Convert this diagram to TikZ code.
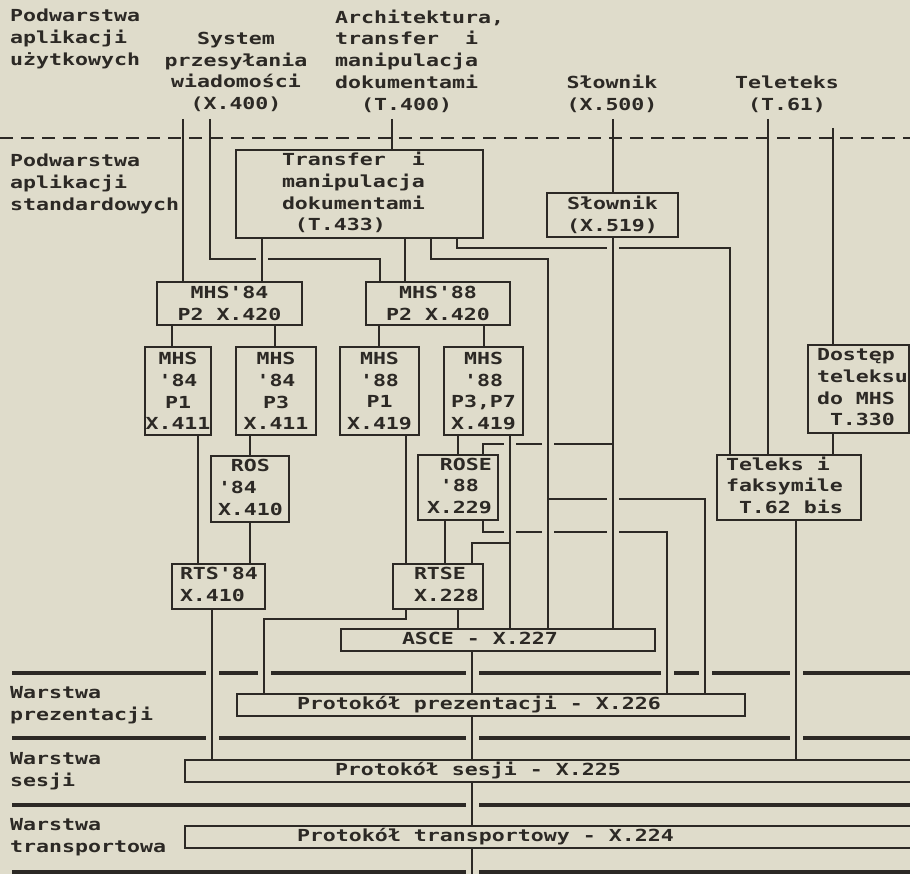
\documentclass[tikz,border=0pt]{standalone}
\usepackage{fontspec}
\newfontfamily\dotfont[FakeStretch=1.3]{DejaVu Sans Mono}
\definecolor{paper}{RGB}{223,220,203}
\definecolor{ink}{RGB}{44,41,37}
\newcommand\tfont{\dotfont\bfseries\fontsize{16.6}{21.7}\selectfont}
\newcommand\chsp{\hphantom{x}}
\newcommand\boxtext[3]{\makebox[#1][l]{\hspace*{#2}\begin{tabular}{@{}l@{}}#3\end{tabular}}}

\begin{document}
\begin{tikzpicture}[x=1pt,y=-1pt,
  link/.style={draw=ink,line width=2pt},
  layer/.style={draw=ink,line width=3.2pt},
  box/.style={draw=ink,line width=2pt,inner sep=0pt,font=\tfont,text=ink},
  cbox/.style={box,align=center},
  lab/.style={font=\tfont,text=ink,inner sep=0pt,align=left,anchor=west},
  clab/.style={font=\tfont,text=ink,inner sep=0pt,align=center}]
  \fill[paper] (0,0) rectangle (910,874);
  \useasboundingbox (0,0) rectangle (910,874);

  % nazwy warstw
  \node[lab] (uzyt) at (10,39) {Podwarstwa\\aplikacji\\użytkowych};
  \node[lab] (stand) at (10,184) {Podwarstwa\\aplikacji\\standardowych};
  \node[lab] (wprez) at (10,705) {Warstwa\\prezentacji};
  \node[lab] (wses) at (10,771) {Warstwa\\sesji};
  \node[lab] (wtran) at (10,837) {Warstwa\\transportowa};
  \draw[link,dash pattern=on 13pt off 8pt] (0,138) -- (910,138);
  \foreach \y in {673,738,805,872} \draw[layer] (12,\y) -- (910,\y);

  % uslugi uzytkowe
  \node[clab] (sys) at (236,72) {System\\przesyłania\\wiadomości\\(X.400)};
  \node[lab] (arch) at (335,61) {Architektura,\\transfer\chsp\chsp i\\manipulacja\\dokumentami\\\chsp\chsp(T.400)};
  \node[clab] (slow) at (612,94) {Słownik\\(X.500)};
  \node[clab] (telt) at (787,94) {Teleteks\\(T.61)};

  % elementy standardowe
  \node[box,minimum width=247pt,minimum height=88pt] (transfer) at (359.5,194)
    {\boxtext{247pt}{46pt}{Transfer\chsp\chsp i\\manipulacja\\dokumentami\\\chsp(T.433)}};
  \node[cbox,minimum width=131pt,minimum height=44pt] (slownik) at (612.5,215) {Słownik\\(X.519)};
  \node[cbox,minimum width=145pt,minimum height=43pt] (mhs84) at (229.5,303.5) {MHS'84\\P2 X.420};
  \node[cbox,minimum width=144pt,minimum height=43pt] (mhs88) at (438,303.5) {MHS'88\\P2 X.420};
  \node[cbox,minimum width=66pt,minimum height=88pt] (p1a) at (178,391) {MHS\\'84\\P1\\X.411};
  \node[cbox,minimum width=80pt,minimum height=88pt] (p3a) at (276,391) {MHS\\'84\\P3\\X.411};
  \node[cbox,minimum width=79pt,minimum height=88pt] (p1b) at (379.5,391) {MHS\\'88\\P1\\X.419};
  \node[cbox,minimum width=79pt,minimum height=88pt] (p3b) at (483.5,391) {MHS\\'88\\P3,P7\\X.419};
  \node[box,minimum width=78pt,minimum height=66pt] (ros) at (250,489) {\boxtext{78pt}{7pt}{\chsp ROS\\'84\\X.410}};
  \node[box,minimum width=80pt,minimum height=65pt] (rose) at (458,487.5) {\boxtext{80pt}{9pt}{\chsp ROSE\\\chsp'88\\X.229}};
  \node[box,minimum width=93pt,minimum height=45pt] (rts) at (218.5,586.5) {\boxtext{93pt}{8pt}{RTS'84\\X.410}};
  \node[box,minimum width=90pt,minimum height=45pt] (rtse) at (438,586.5) {\boxtext{90pt}{21pt}{RTSE\\X.228}};
  \node[box,minimum width=144pt,minimum height=65pt] (teleks) at (789,487.5) {\boxtext{144pt}{9pt}{Teleks i\\faksymile\\\chsp T.62 bis}};
  \node[box,minimum width=101pt,minimum height=88pt] (dostep) at (858.5,389) {\boxtext{101pt}{9pt}{Dostęp\\teleksu\\do MHS\\\chsp T.330}};
  \node[box,minimum width=314pt,minimum height=22pt] (asce) at (498,640) {\boxtext{314pt}{61pt}{ASCE - X.227}};
  \node[box,minimum width=508pt,minimum height=22pt] (prez) at (491,705) {\boxtext{508pt}{60pt}{Protokół prezentacji - X.226}};
  \node[box,minimum width=733pt,minimum height=22pt] (sesja) at (551.5,771) {\boxtext{733pt}{150pt}{Protokół sesji - X.225}};
  \node[box,minimum width=733pt,minimum height=20pt] (transport) at (551.5,837) {\boxtext{733pt}{112pt}{Protokół transportowy - X.224}};

  % kolumny i wiersze polaczen
  \foreach \x in {172,183,198,210,212,262,264,275,379,380,392,405,406,431,445,457,458,472,483,510,548,613,667,705,730,768,796,833}
    \coordinate (c\x) at (\x,0);
  \foreach \n/\y in {top/119,hi/128,r248/248,r259/259,r444/444,r499/499,r532/532,r543/543,r619/619,bottom/880}
    \coordinate (\n) at (0,\y);

  % polaczenia
  \draw[link] (c183 |- top) -- (mhs84.north -| c183);
  \draw[link] (c210 |- top) |- (c380 |- r259) -- (mhs88.north -| c380);
  \draw[link] (c392 |- top) -- (transfer.north -| c392);
  \draw[link] (transfer.south -| c262) -- (mhs84.north -| c262);
  \draw[link] (transfer.south -| c405) -- (mhs88.north -| c405);
  \draw[link] (transfer.south -| c431) |- (c548 |- r259) -- (asce.north -| c548);
  \draw[link] (transfer.south -| c457) |- (c730 |- r248) -- (teleks.north -| c730);
  \draw[link] (slownik.north |- top) -- (slownik.north);
  \draw[link] (slownik.south) -- (asce.north -| slownik.south);
  \draw[link] (c768 |- top) -- (teleks.north -| c768);
  \draw[link] (c833 |- hi) -- (dostep.north -| c833);
  \draw[link] (dostep.south -| c833) -- (teleks.north -| c833);
  \draw[link] (teleks.south -| c796) -- (sesja.north -| c796);
  \draw[link] (mhs84.south -| c172) -- (p1a.north -| c172);
  \draw[link] (mhs84.south -| c275) -- (p3a.north -| c275);
  \draw[link] (mhs88.south -| c379) -- (p1b.north -| c379);
  \draw[link] (mhs88.south -| p3b.north) -- (p3b.north);
  \draw[link] (p1a.south -| c198) -- (rts.north -| c198);
  \draw[link] (p3a.south -| ros.north) -- (ros.north);
  \draw[link] (ros.south) -- (rts.north -| ros.south);
  \draw[link] (p1b.south -| c406) -- (rtse.north -| c406);
  \draw[link] (p3b.south -| rose.north) -- (rose.north);
  \draw[link] (p3b.south -| c510) -- (asce.north -| c510);
  \draw[link] (rose.north -| c483) |- (c613 |- r444);
  \draw[link] (rose.south -| c483) |- (c667 |- r532) -- (prez.north -| c667);
  \draw[link] (rose.south -| c445) -- (rtse.north -| c445);
  \draw[link] (rtse.north -| c472) |- (c510 |- r543);
  \draw[link] (rtse.south -| c458) -- (asce.north -| c458);
  \draw[link] (rtse.south -| c406) |- (c264 |- r619) -- (prez.north -| c264);
  \draw[link] (c548 |- r499) -| (prez.north -| c705);
  \draw[link] (rts.south -| c212) -- (sesja.north -| c212);
  \draw[link] (asce.south -| c472) -- (prez.north -| c472);
  \draw[link] (prez.south -| c472) -- (sesja.north -| c472);
  \draw[link] (sesja.south -| c472) -- (transport.north -| c472);
  \draw[link] (transport.south -| c472) -- (c472 |- bottom);

  % przerwy na skrzyzowaniach
  \foreach \x/\y in {262/259,613/248,510/444,548/444,613/499,510/532,548/532,613/532}{
    \fill[paper] (\x-6,\y-3) rectangle (\x+6,\y+3);
    \draw[link] (\x,\y-5) -- (\x,\y+5);}
  \foreach \x/\y in {212/673,264/673,472/673,667/673,705/673,796/673,212/738,472/738,796/738,472/805,472/872}{
    \fill[paper] (\x-6.5,\y-3) rectangle (\x+6.5,\y+3);
    \draw[link] (\x,\y-5) -- (\x,\y+5);}
\end{tikzpicture}
\end{document}
